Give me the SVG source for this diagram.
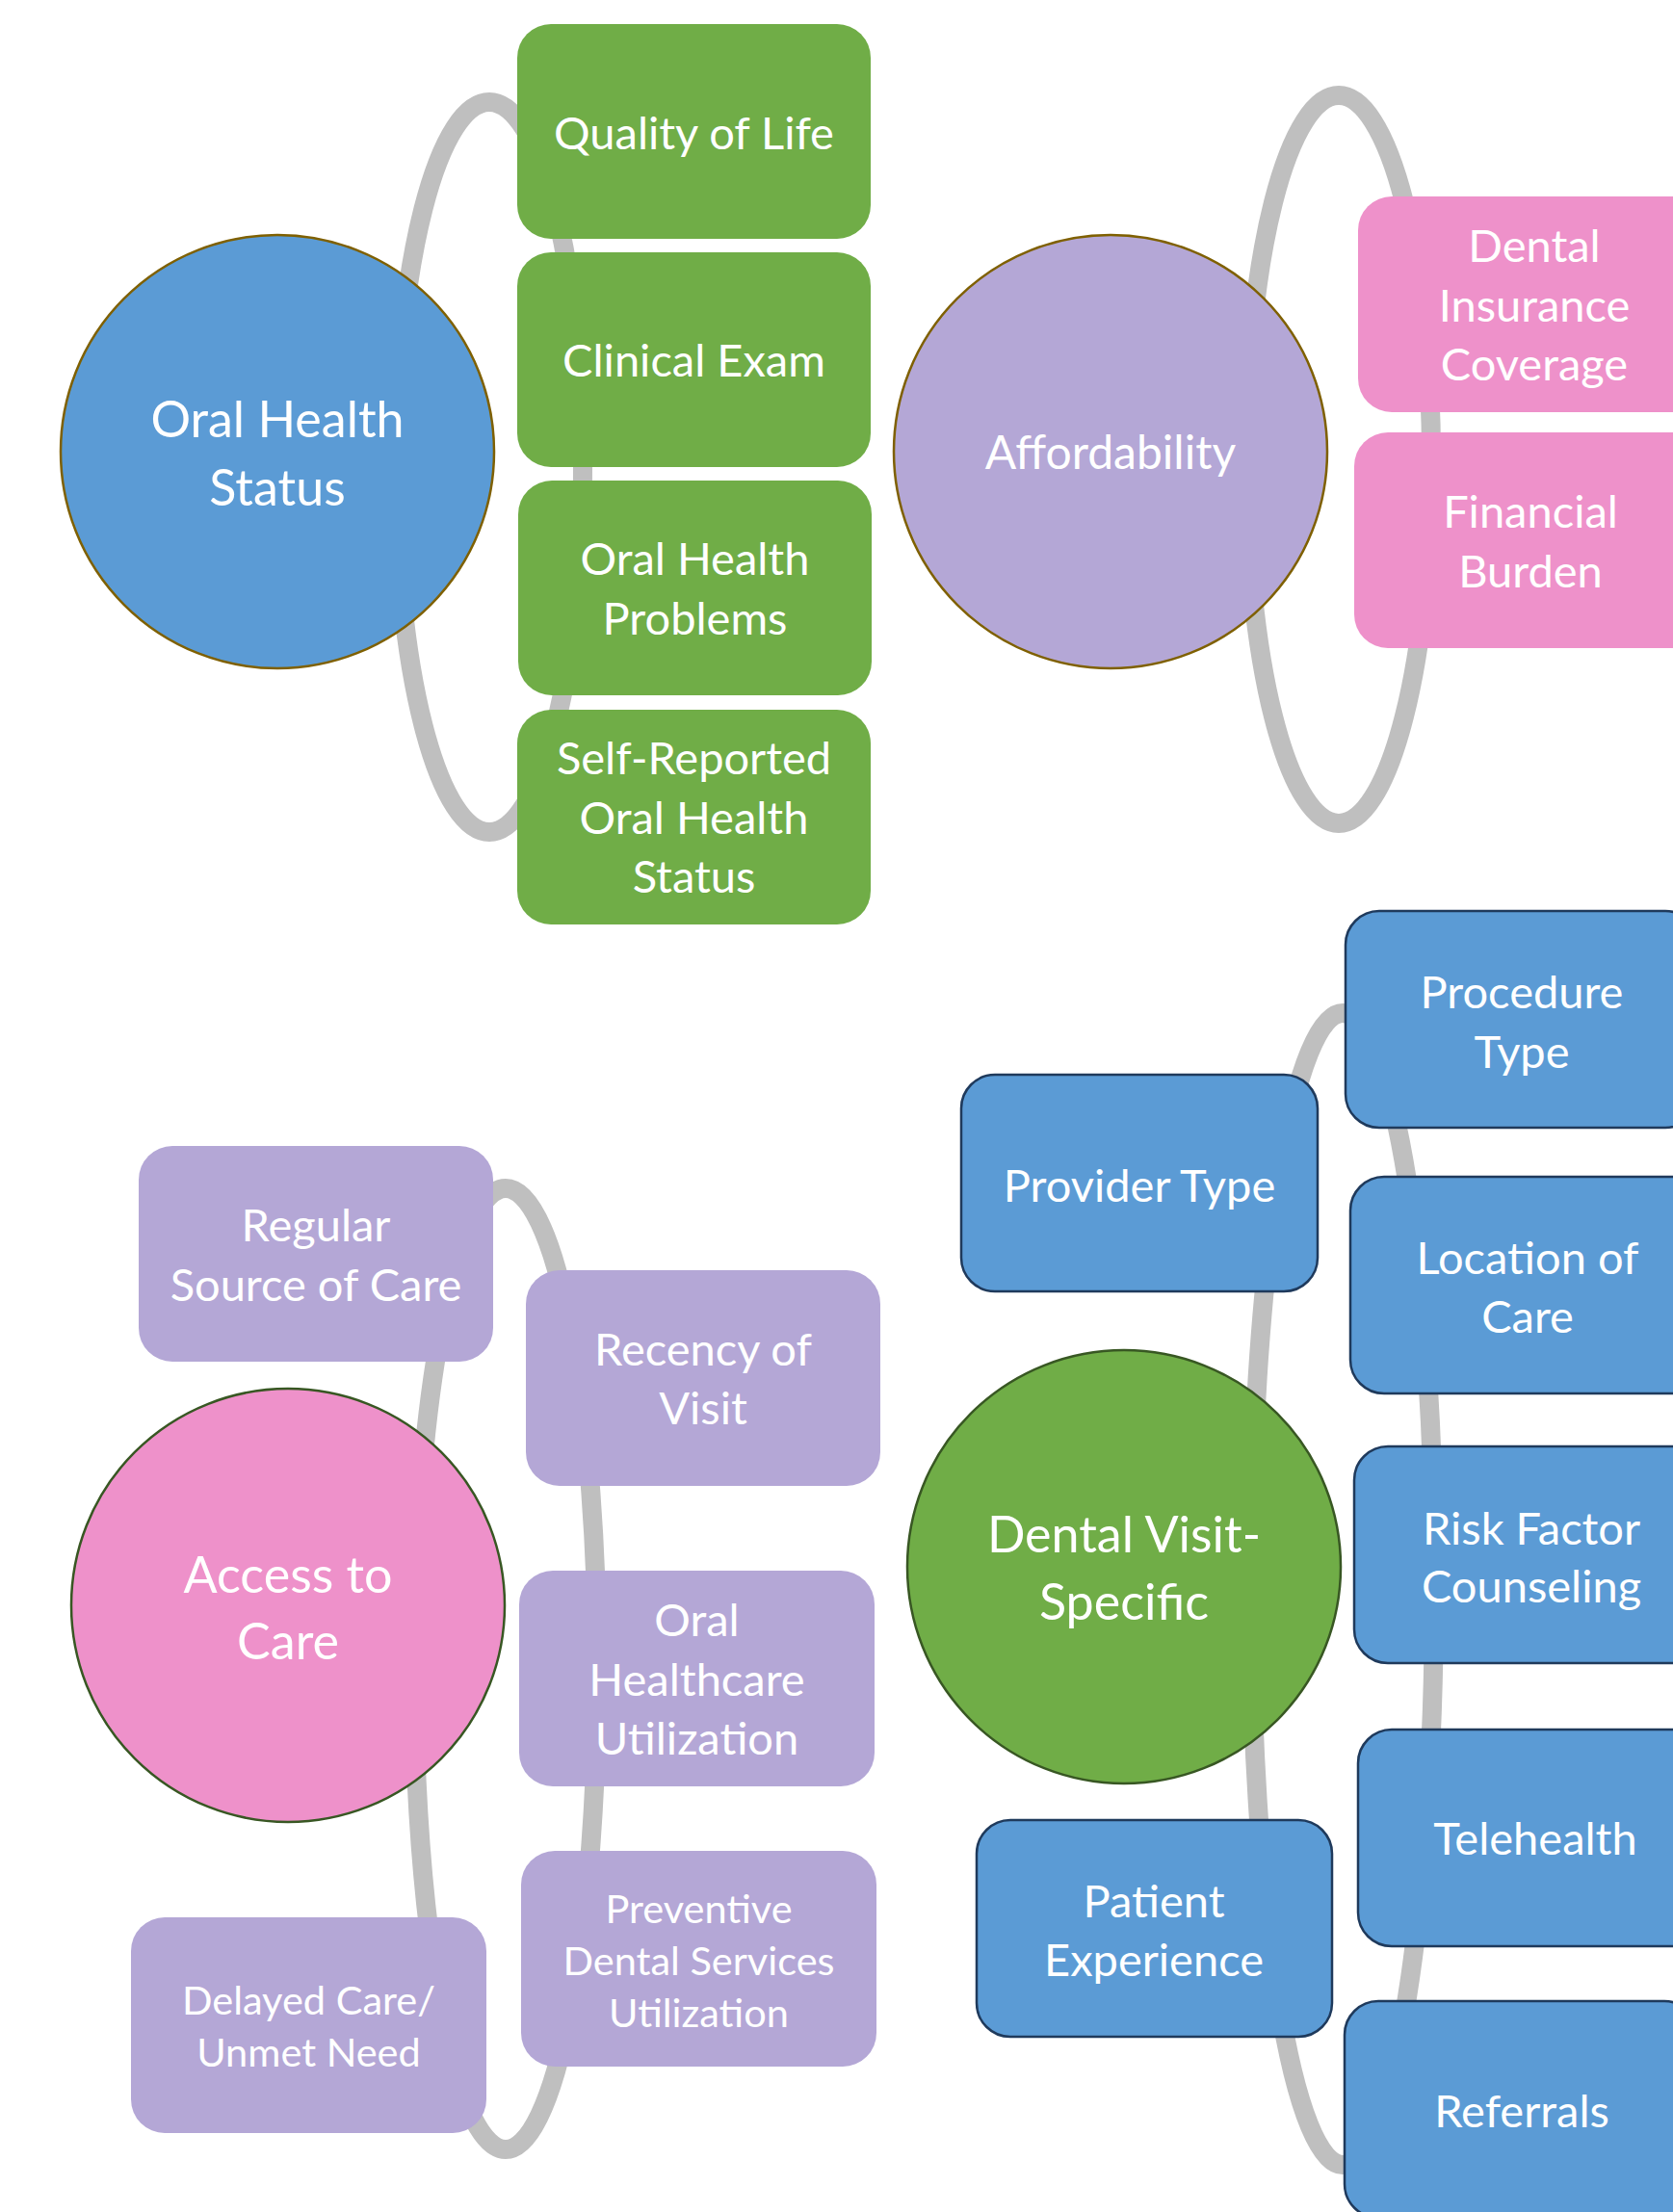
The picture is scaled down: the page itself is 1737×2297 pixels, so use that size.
<svg xmlns="http://www.w3.org/2000/svg" width="1737" height="2297" viewBox="0 0 1737 2297">
<style>
.arc{fill:none;stroke:#BFBFBF;stroke-width:20}
.t{font-family:Lato,"Open Sans","Liberation Sans",sans-serif;fill:#FFFFFF;text-anchor:middle}
.b{font-size:47px}
.c{font-size:52px}
.a{font-size:48px}
.s{font-size:41.5px}
.green{fill:#70AD47}
.pink{fill:#EE91CA}
.lav{fill:#B4A7D6}
.blue{fill:#5B9BD5}
.bluebox{fill:#5B9BD5;stroke:#1F3A5C;stroke-width:2.5}
.brown{stroke:#7F6000;stroke-width:2.5}
.dkgreen{stroke:#385723;stroke-width:2.5}
</style>
<rect width="1737" height="2297" fill="#FFFFFF"/>
<g id="connectors">
<ellipse class="arc" cx="508" cy="485" rx="97" ry="379"/>
<ellipse class="arc" cx="1390" cy="477" rx="96" ry="378"/>
<ellipse class="arc" cx="525" cy="1733" rx="95" ry="499"/>
<ellipse class="arc" cx="1394" cy="1650" rx="95" ry="598"/>
</g>
<g id="oral-health-status">
<circle class="blue brown" cx="288" cy="469" r="225"/>
<text class="t c"><tspan x="288" y="454">Oral Health</tspan><tspan x="288" y="525">Status</tspan></text>
</g>
<g id="quality-of-life">
<rect class="green" x="537" y="25" width="367" height="223" rx="35"/>
<text class="t b" x="720.5" y="155">Quality of Life</text>
</g>
<g id="clinical-exam">
<rect class="green" x="537" y="262" width="367" height="223" rx="35"/>
<text class="t b" x="720.5" y="391">Clinical Exam</text>
</g>
<g id="oral-health-problems">
<rect class="green" x="538" y="499" width="367" height="223" rx="35"/>
<text class="t b"><tspan x="721.5" y="597">Oral Health</tspan><tspan x="721.5" y="659">Problems</tspan></text>
</g>
<g id="self-reported">
<rect class="green" x="537" y="737" width="367" height="223" rx="35"/>
<text class="t b"><tspan x="720.5" y="804">Self-Reported</tspan><tspan x="720.5" y="865.5">Oral Health</tspan><tspan x="720.5" y="927">Status</tspan></text>
</g>
<g id="affordability">
<circle class="lav brown" cx="1153" cy="469" r="225"/>
<text class="t a" x="1153" y="487">Affordability</text>
</g>
<g id="dental-insurance">
<rect class="pink" x="1410" y="204" width="367" height="224" rx="35"/>
<text class="t b"><tspan x="1593" y="272">Dental</tspan><tspan x="1593" y="333.5">Insurance</tspan><tspan x="1593" y="395">Coverage</tspan></text>
</g>
<g id="financial-burden">
<rect class="pink" x="1406" y="449" width="367" height="224" rx="35"/>
<text class="t b"><tspan x="1589" y="548">Financial</tspan><tspan x="1589" y="610">Burden</tspan></text>
</g>
<g id="access-to-care">
<circle class="pink dkgreen" cx="299" cy="1667" r="225"/>
<text class="t c"><tspan x="299" y="1654">Access to</tspan><tspan x="299" y="1723">Care</tspan></text>
</g>
<g id="regular-source">
<rect class="lav" x="144" y="1190" width="368" height="224" rx="35"/>
<text class="t b"><tspan x="328" y="1289">Regular</tspan><tspan x="328" y="1351">Source of Care</tspan></text>
</g>
<g id="recency-of-visit">
<rect class="lav" x="546" y="1319" width="368" height="224" rx="35"/>
<text class="t b"><tspan x="730" y="1418">Recency of</tspan><tspan x="730" y="1479">Visit</tspan></text>
</g>
<g id="oral-healthcare-utilization">
<rect class="lav" x="539" y="1631" width="369" height="224" rx="35"/>
<text class="t b"><tspan x="723.5" y="1699">Oral</tspan><tspan x="723.5" y="1760.5">Healthcare</tspan><tspan x="723.5" y="1822">Utilization</tspan></text>
</g>
<g id="preventive-dental">
<rect class="lav" x="541" y="1922" width="369" height="224" rx="35"/>
<text class="t s"><tspan x="725.5" y="1997">Preventive</tspan><tspan x="725.5" y="2051">Dental Services</tspan><tspan x="725.5" y="2105">Utilization</tspan></text>
</g>
<g id="delayed-care">
<rect class="lav" x="136" y="1991" width="369" height="224" rx="35"/>
<text class="t s"><tspan x="320.5" y="2092">Delayed Care/</tspan><tspan x="320.5" y="2146">Unmet Need</tspan></text>
</g>
<g id="dental-visit-specific">
<circle class="green dkgreen" cx="1167" cy="1627" r="225"/>
<text class="t c"><tspan x="1167" y="1612">Dental Visit-</tspan><tspan x="1167" y="1682">Specific</tspan></text>
</g>
<g id="procedure-type">
<rect class="bluebox" x="1397" y="946" width="367" height="225" rx="35"/>
<text class="t b"><tspan x="1580" y="1047">Procedure</tspan><tspan x="1580" y="1109">Type</tspan></text>
</g>
<g id="provider-type">
<rect class="bluebox" x="998" y="1116" width="370" height="225" rx="35"/>
<text class="t b" x="1183" y="1248">Provider Type</text>
</g>
<g id="location-of-care">
<rect class="bluebox" x="1402" y="1222" width="367" height="225" rx="35"/>
<text class="t b"><tspan x="1586" y="1323">Location of</tspan><tspan x="1586" y="1384">Care</tspan></text>
</g>
<g id="risk-factor-counseling">
<rect class="bluebox" x="1406" y="1502" width="367" height="225" rx="35"/>
<text class="t b"><tspan x="1590" y="1604">Risk Factor</tspan><tspan x="1590" y="1664">Counseling</tspan></text>
</g>
<g id="telehealth">
<rect class="bluebox" x="1410" y="1796" width="367" height="225" rx="35"/>
<text class="t b" x="1594" y="1926">Telehealth</text>
</g>
<g id="patient-experience">
<rect class="bluebox" x="1014" y="1890" width="369" height="225" rx="35"/>
<text class="t b"><tspan x="1198" y="1991">Patient</tspan><tspan x="1198" y="2052">Experience</tspan></text>
</g>
<g id="referrals">
<rect class="bluebox" x="1396" y="2078" width="367" height="225" rx="35"/>
<text class="t b" x="1580" y="2209">Referrals</text>
</g>
</svg>
